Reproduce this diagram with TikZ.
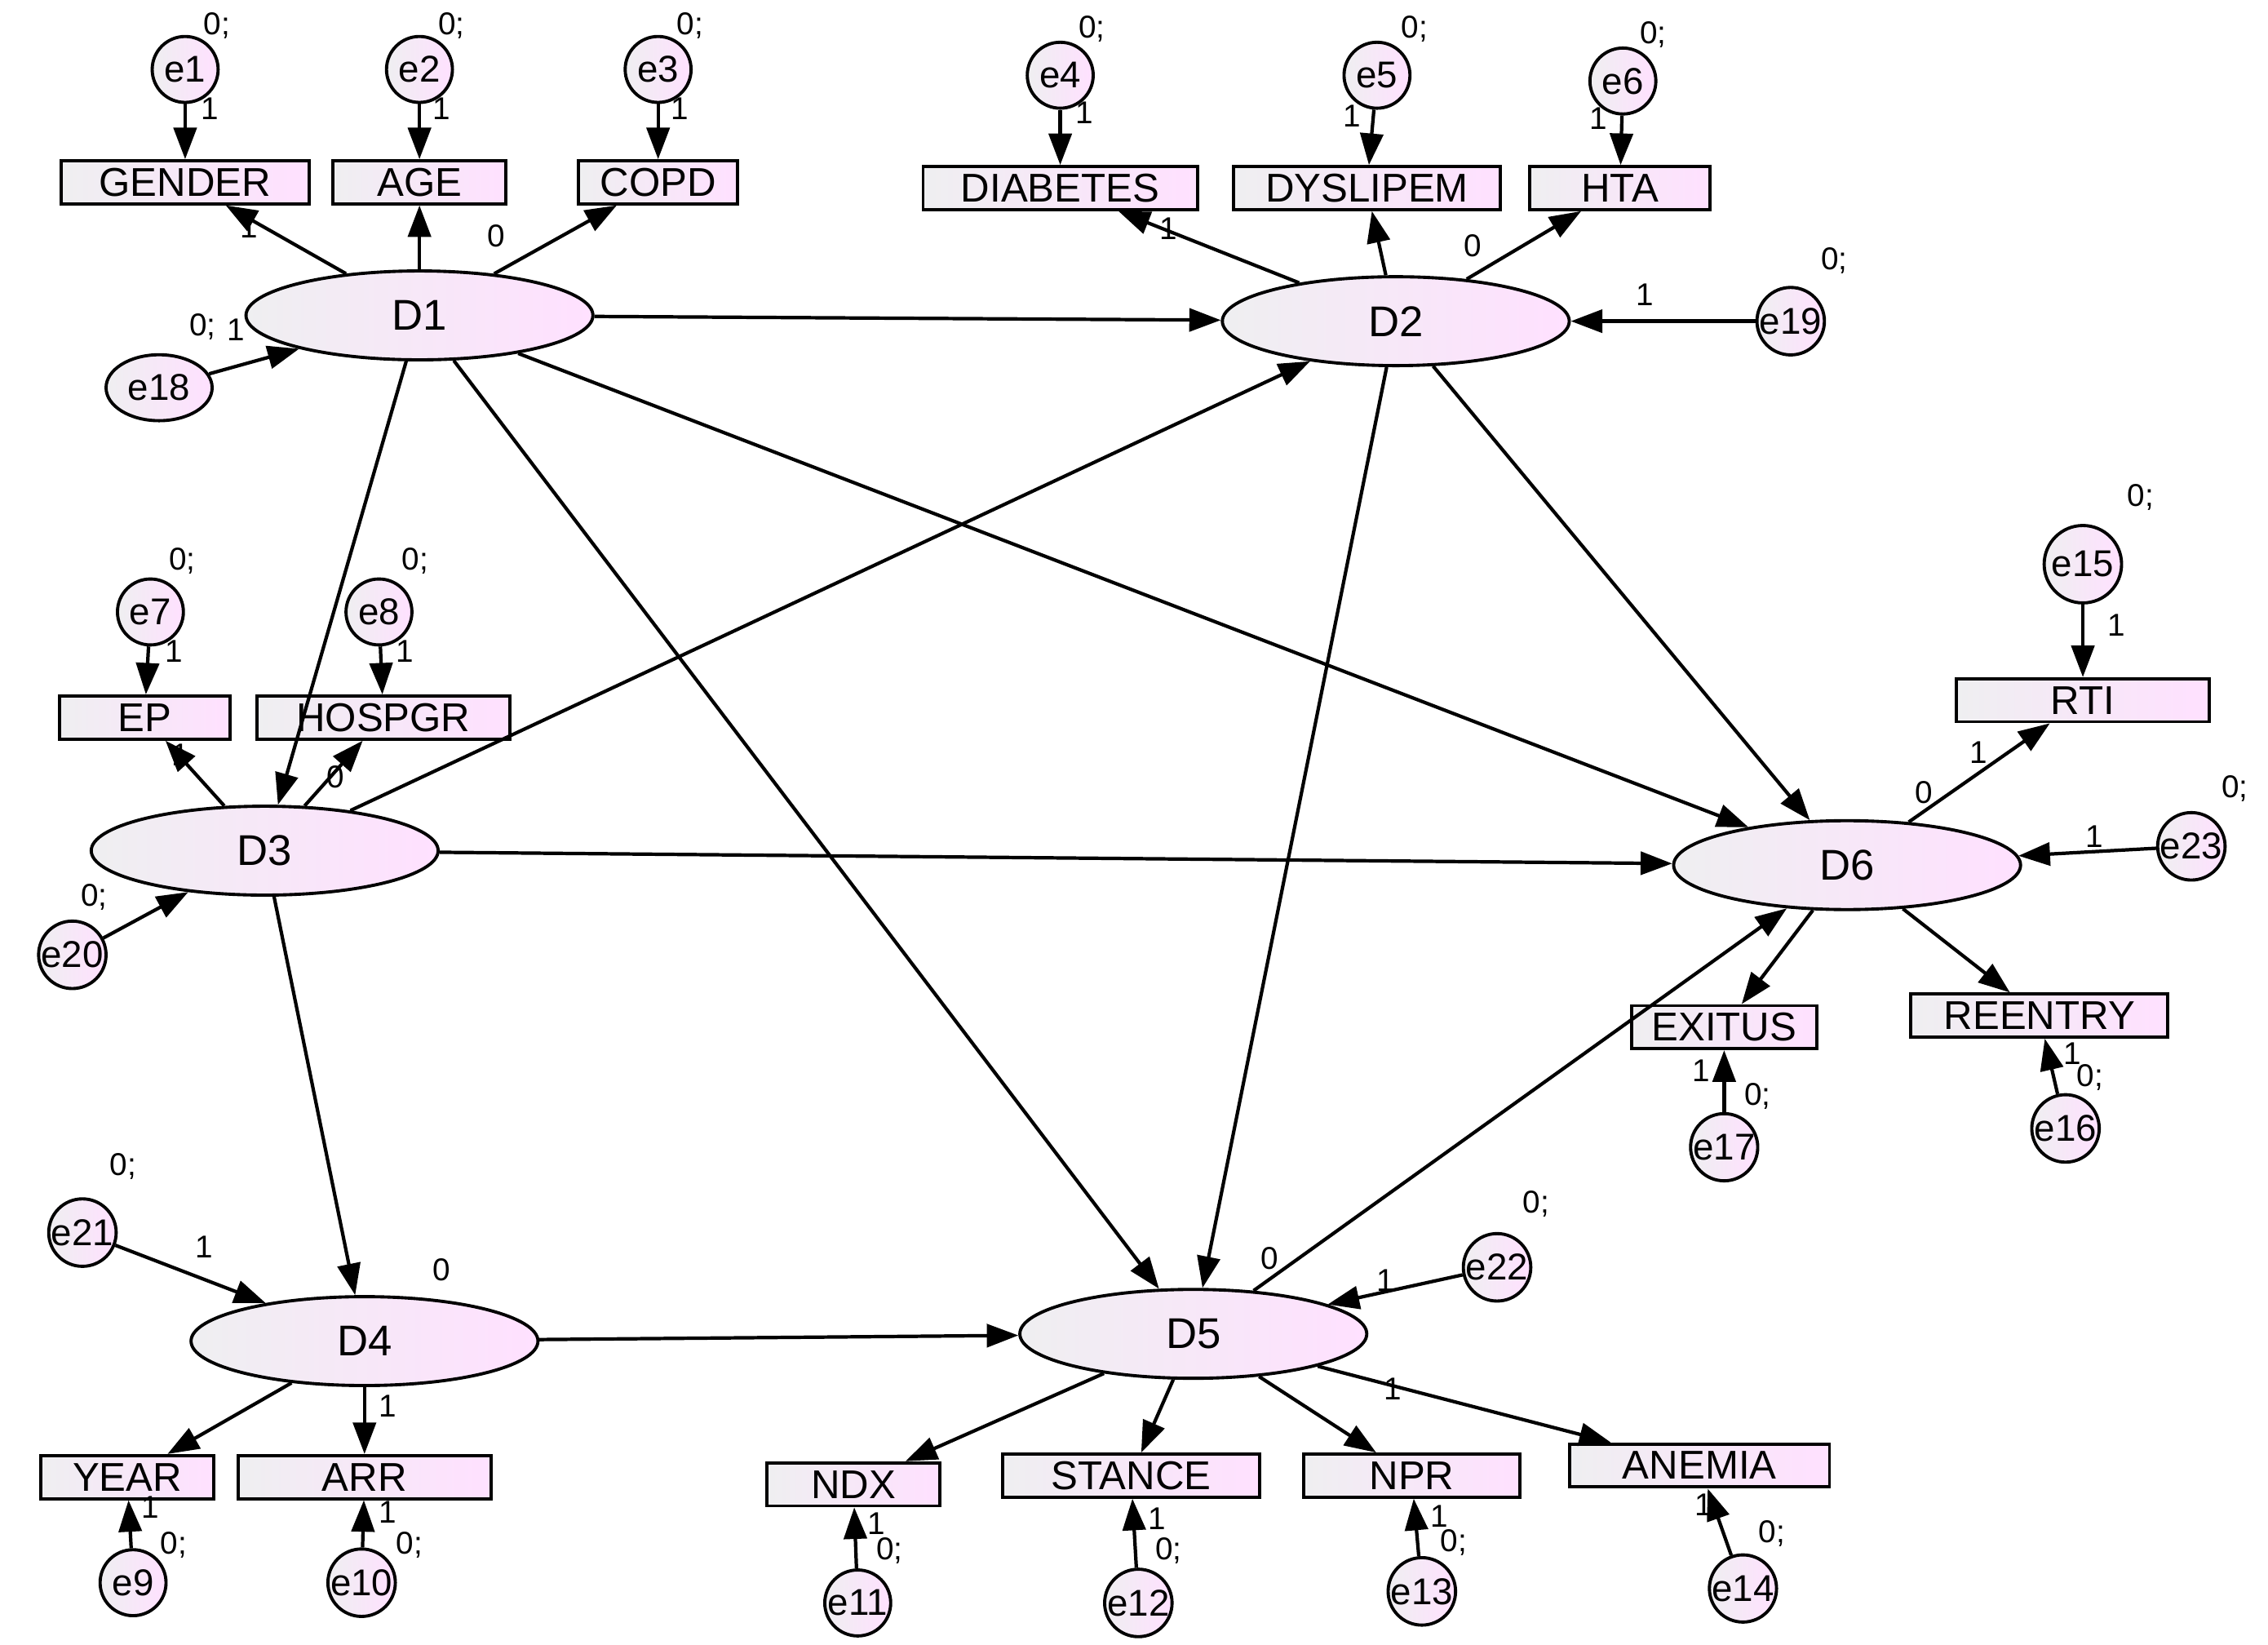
\documentclass[tikz,border=0pt]{standalone}
\usepackage{fontspec}
\setmainfont{Liberation Sans}
\usetikzlibrary{shapes.geometric,arrows.meta}
\begin{document}
\begin{tikzpicture}[x=0.01773cm,y=-0.01773cm,
  grad/.style={left color=blue!6!gray!12,right color=magenta!12,draw=black,line width=1.1pt},
  lat/.style={grad,ellipse,minimum width=121pt,minimum height=31pt,inner sep=0pt,font=\fontsize{15}{18}\selectfont},
  obs/.style={grad,rectangle,minimum height=15pt,inner sep=0pt,font=\fontsize{14}{16}\selectfont},
  err/.style={grad,circle,minimum size=23pt,inner sep=0pt,font=\fontsize{13}{15}\selectfont},
  arr/.style={-{Triangle[length=11pt,width=8pt]},line width=1.2pt},
  lb/.style={font=\fontsize{11}{13}\selectfont,inner sep=1pt}]
\useasboundingbox (0,0) rectangle (1568,1137);
% latents
\node[lat] (D1) at (290,218) {D1};
\node[lat] (D2) at (965,222) {D2};
\node[lat] (D3) at (183,588) {D3};
\node[lat] (D4) at (252,927) {D4};
\node[lat] (D5) at (825,922) {D5};
\node[lat] (D6) at (1277,598) {D6};
% observed
\foreach \n/\x/\y/\w in {GENDER/128/126/172,AGE/290/126/120,COPD/455/126/110,
  DIABETES/733/130/190,DYSLIPEM/945/130/185,HTA/1120/130/125,
  EP/100/496/118,HOSPGR/265/496/175,YEAR/88/1021/120,ARR/252/1021/175,
  NDX/590/1026/120,STANCE/782/1020/178,NPR/976/1020/150,ANEMIA/1175/1013/180,
  RTI/1440/484/175,EXITUS/1192/710/128,REENTRY/1410/702/178}
  \node[obs,minimum width={\w*0.5035pt}] (\n) at (\x,\y) {\n};
% errors
\foreach \n/\x/\y in {e1/128/48,e2/290/48,e3/455/48,e4/733/52,e5/952/52,e6/1122/56,
  e7/104/423,e8/262/423,e9/92/1094,e10/250/1094,e11/593/1108,e12/787/1108,
  e13/983/1100,e14/1205/1098,e16/1428/780,e17/1192/793,e19/1238/222,
  e20/50/660,e21/57/852,e22/1035/876,e23/1515/585}
  \node[err] (\n) at (\x,\y) {\n};
\node[err,minimum size=27pt] (e15) at (1440,390) {e15};
\node[err,ellipse,minimum width=37pt,minimum height=23pt] (e18) at (110,268) {e18};
\foreach \a/\b in {D1/GENDER,D1/AGE,D1/COPD,D2/DIABETES,D2/DYSLIPEM,D2/HTA,D3/EP,D3/HOSPGR,
  D4/YEAR,D4/ARR,D5/NDX,D5/STANCE,D5/NPR,D5/ANEMIA,D6/RTI,D6/EXITUS,D6/REENTRY,
  e1/GENDER,e2/AGE,e3/COPD,e4/DIABETES,e5/DYSLIPEM,e6/HTA,e7/EP,e8/HOSPGR,e9/YEAR,e10/ARR,
  e11/NDX,e12/STANCE,e13/NPR,e14/ANEMIA,e15/RTI,e16/REENTRY,e17/EXITUS,
  D1/D2,D1/D3,D1/D5,D1/D6,D2/D5,D2/D6,D3/D2,D3/D6,D3/D4,D4/D5,D5/D6,
  e18/D1,e19/D2,e20/D3,e21/D4,e22/D5,e23/D6}
  \draw[arr] (\a) -- (\b);
\foreach \x/\y in {150/18,312/18,477/18,755/20,978/20,1143/24,126/388,287/388,
  85/806,1062/832,1480/344,1268/180,1545/545,140/226,65/620,120/1068,283/1068,
  615/1072,808/1072,1005/1066,1225/1060,1215/758,1445/745}
  \node[lb] at (\x,\y) {0;};
\foreach \x/\y in {343/163,1018/170,1330/548,305/878,878/870,232/537}
  \node[lb] at (\x,\y) {0};
\foreach \x/\y in {145/75,305/75,470/75,750/78,935/80,1105/82,120/450,280/450,
  172/157,808/158,125/522,163/228,1137/204,1448/578,1368/520,141/862,958/885,
  1463/432,963/960,606/1053,800/1050,995/1048,1178/1040,1176/740,1433/728,
  104/1042,268/972,268/1045}
  \node[lb] at (\x,\y) {1};
\end{tikzpicture}
\end{document}
